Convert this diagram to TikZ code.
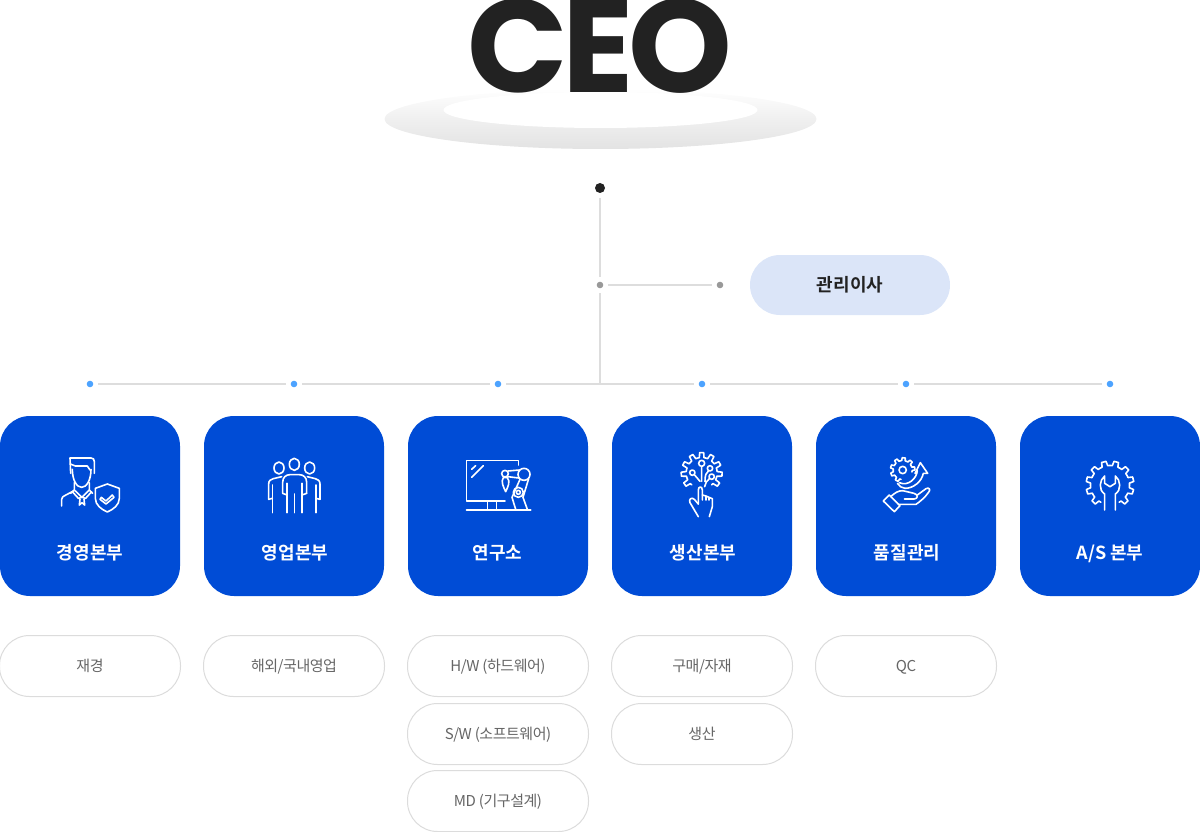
\documentclass[tikz,border=0pt]{standalone}
\usepackage{fontspec}
\newfontfamily\kr{Noto Sans CJK KR}[LetterSpace=-3]
\newfontfamily\krhead{Noto Sans CJK KR}[BoldFont={Noto Sans CJK KR Bold}]
\newfontfamily\ceofont{Poppins}[BoldFont={Poppins Bold},LetterSpace=-4]
\definecolor{cardblue}{HTML}{004CD6}
\definecolor{linegray}{HTML}{DDDDDD}
\definecolor{dotgray}{HTML}{999999}
\definecolor{dotblue}{HTML}{4DA3FF}
\definecolor{inkdark}{HTML}{222222}
\definecolor{pilltext}{HTML}{666666}
\definecolor{pillborder}{HTML}{DCDCDC}
\definecolor{mgrblue}{HTML}{DBE5F8}
\tikzset{
  card/.style={fill=cardblue,draw=none,rounded corners=30pt,minimum width=180pt,minimum height=180pt,inner sep=0pt},
  cardlabel/.style={text=white,inner sep=0pt,text height=18pt,text depth=4pt,font={\krhead\fontsize{18}{18}\selectfont\bfseries}},
  pill/.style={draw=pillborder,line width=1pt,fill=white,rounded corners=30pt,minimum width=181pt,minimum height=61pt,inner sep=0pt,text height=14.5pt,text depth=3pt,text=pilltext,font={\kr\fontsize{15}{15}\selectfont}},
  dotb/.style={circle,fill=dotblue,minimum size=6.6pt,inner sep=0pt,outer sep=4.7pt},
  dotg/.style={circle,fill=dotgray,minimum size=6.6pt,inner sep=0pt,outer sep=4.7pt},
  dotk/.style={circle,fill=inkdark,minimum size=10pt,inner sep=0pt,outer sep=5pt},
  wire/.style={draw=linegray,line width=2pt},
  icon/.style={draw=white,line width=1.6pt,line join=round,line cap=round},
  zoomA/.style={shift={(40,440)},x=0.33333pt,y=-0.33333pt},
  zoomB/.style={shift={(450,440)},x=0.33333pt,y=-0.33333pt},
  zoomC/.style={shift={(860,440)},x=0.33333pt,y=-0.33333pt},
}
% gear outline: centre x, centre y, root radius, tip radius, teeth, start angle, end angle
\newcommand{\gearline}[7]{%
  \begin{scope}[shift={(#1,#2)}]
    \pgfmathsetmacro{\gstep}{(#7-#6)/#5}
    \pgfmathtruncatemacro{\glast}{#5-1}
    \draw[icon] (#6:#3)
    \foreach \gi in {0,...,\glast}{
      -- ({#6+(\gi+0.22)*\gstep}:#3) -- ({#6+(\gi+0.32)*\gstep}:#4)
      -- ({#6+(\gi+0.68)*\gstep}:#4) -- ({#6+(\gi+0.78)*\gstep}:#3)
      -- ({#6+(\gi+1)*\gstep}:#3)
    };
  \end{scope}}
\begin{document}
\begin{tikzpicture}[x=1pt,y=-1pt]
\useasboundingbox (0,0) rectangle (1200,832);
% podium
\shade[top color=white,bottom color=black!11,middle color=black!6] (600.5,119) ellipse (216 and 30);
\fill[white] (600.5,110) ellipse (157 and 18);
\node[anchor=base,inner sep=0pt,text=inkdark,font={\ceofont\fontsize{132}{132}\selectfont\bfseries}] (ceo) at (600,93) {CEO};
% tree
\node[dotk] (top) at (600,188) {};
\node[dotg] (mid) at (600,285) {};
\node[dotg] (side) at (720,285) {};
\coordinate (junction) at (600,384);
\node[dotb] (b1) at (90,384) {};
\node[dotb] (b2) at (294,384) {};
\node[dotb] (b3) at (498,384) {};
\node[dotb] (b4) at (702,384) {};
\node[dotb] (b5) at (906,384) {};
\node[dotb] (b6) at (1110,384) {};
\draw[wire] (top) -- (mid);
\draw[wire] (mid) -- (junction);
\draw[wire] (mid) -- (side);
\draw[wire] (b1) -- (b2);
\draw[wire] (b2) -- (b3);
\draw[wire] (b3) -- (b4);
\draw[wire] (b4) -- (b5);
\draw[wire] (b5) -- (b6);
\node[fill=mgrblue,rounded corners=30pt,minimum width=200pt,minimum height=60pt,inner sep=0pt,text height=16pt,text depth=4pt,text=inkdark,font={\krhead\fontsize{18}{18}\selectfont\bfseries}] (mgr) at (850,285) {관리이사};
% cards
\node[card] (c1) at (90,506) {};
\node[card] (c2) at (294,506) {};
\node[card] (c3) at (498,506) {};
\node[card] (c4) at (702,506) {};
\node[card] (c5) at (906,506) {};
\node[card] (c6) at (1110,506) {};
\node[cardlabel] (l1) at (90,552) {경영본부};
\node[cardlabel] (l2) at (295,552) {영업본부};
\node[cardlabel] (l3) at (497.5,552) {연구소};
\node[cardlabel] (l4) at (703,552) {생산본부};
\node[cardlabel] (l5) at (907,552) {품질관리};
\node[cardlabel] (l6) at (1110,552) {A/S 본부};
% pills
\node[pill] (p1) at (90,666) {재경};
\node[pill] (p2) at (294,666) {해외/국내영업};
\node[pill] (p3a) at (498,666) {H/W (하드웨어)};
\node[pill] (p3b) at (498,734) {S/W (소프트웨어)};
\node[pill] (p3c) at (498,801) {MD (기구설계)};
\node[pill] (p4a) at (702,666) {구매/자재};
\node[pill] (p4b) at (702,734) {생산};
\node[pill] (p5) at (906,666) {QC};
% icon 1: person and shield
\begin{scope}[zoomA]
  \draw[icon] (92,100) -- (90,54) -- (153,54) .. controls (160,54) and (163,58) .. (163,65) -- (163,100);
  \draw[icon] (91,72) -- (106,78) -- (142,78) -- (150,90);
  \draw[icon] (97,88) .. controls (97,120) and (110,142) .. (125,142) .. controls (140,142) and (153,120) .. (153,88);
  \draw[icon] (103,128) -- (103,150) -- (126,172) -- (148,150) -- (148,128);
  \draw[icon] (92,160) -- (103,150) (158,160) -- (148,150);
  \draw[icon] (97,155) -- (115,175) -- (126,172) -- (137,175) -- (155,155);
  \draw[icon] (118,195) -- (120,178) (134,195) -- (132,178) (118,195) -- (126,188) -- (134,195);
  \draw[icon] (65,198) -- (65,178) .. controls (65,172) and (70,168) .. (76,166) -- (100,153);
  \draw[icon] (202,132) -- (238,145) -- (238,175) .. controls (238,195) and (220,208) .. (202,216) .. controls (184,208) and (166,195) .. (166,175) -- (166,145) -- cycle;
  \draw[icon] (184,172) -- (198,183) -- (217,165) -- (222,172) -- (198,192) -- (180,178) -- cycle;
  % icon 2: group
  \draw[icon] (763,73) ellipse (15 and 18);
  \draw[icon] (717,84) ellipse (15 and 18);
  \draw[icon] (809,84) ellipse (15 and 18);
  \draw[icon] (728,160) -- (728,127) .. controls (728,112) and (738,104) .. (750,104) -- (778,104) .. controls (790,104) and (800,112) .. (800,127) -- (800,160);
  \draw[icon] (741,218) -- (741,130) (786,218) -- (786,130) (763,218) -- (763,162);
  \draw[icon] (728,160) -- (741,165) (800,160) -- (786,165);
  \draw[icon] (697,218) -- (697,135) (828,218) -- (828,135);
  \draw[icon] (686,178) -- (686,132) .. controls (686,122) and (692,118) .. (700,116) -- (725,110);
  \draw[icon] (686,178) -- (697,175) (840,178) -- (828,175);
  \draw[icon] (840,178) -- (840,132) .. controls (840,122) and (834,118) .. (826,116) -- (802,110);
\end{scope}
% icon 3: monitor and robot arm; icon 4: gear tree and hand
\begin{scope}[zoomB]
  \draw[icon] (205,75) -- (205,62) -- (50,62) -- (50,183) -- (165,183);
  \draw[icon] (65,88) -- (77,77) (65,112) -- (100,77);
  \draw[icon] (113,183) -- (113,208) (140,183) -- (140,208);
  \draw[icon,line width=1.9pt] (50,210) -- (242,210);
  \draw[icon] (222,103) circle (18);
  \draw[icon] (165,101) circle (10);
  \draw[icon] (174,93) -- (208,90) (174,110) -- (206,114);
  \draw[icon] (160,113) .. controls (152,125) and (160,140) .. (167,155) .. controls (174,140) and (182,125) .. (172,113) -- cycle;
  \draw[icon] (210,118) -- (186,172) -- (197,208) (236,116) -- (219,172) -- (232,208);
  \draw[icon] (205,157) circle (15) (205,157) circle (6);
  % tree
  \draw[icon] (755,70) circle (9) (755,79) -- (755,124);
  \draw[icon] (727,98) circle (8) (733,104) -- (750,124);
  \draw[icon] (780,85) circle (8) (776,92) .. controls (768,98) and (765,105) .. (765,125);
  \draw[icon] (785,110) circle (8) (778,116) .. controls (770,122) and (766,130) .. (764,140);
  \draw[icon] (745,192) -- (745,150) .. controls (745,138) and (757,138) .. (757,150) -- (757,180);
  \draw[icon] (745,192) -- (733,178) .. controls (725,170) and (715,178) .. (720,188) -- (745,230);
  \draw[icon] (757,165) -- (768,168) -- (768,180) (768,168) -- (777,172) -- (777,180) (777,172) -- (787,176) -- (787,200) -- (778,230);
\end{scope}
\gearline{701.67}{473}{15.5}{20.5}{9}{130}{410}
% icon 5: gear and hand; icon 6: gear and wrench
\begin{scope}[zoomC]
  \draw[icon] (128,90) circle (11);
  \draw[icon] (118,128) .. controls (145,140) and (170,115) .. (172,92) -- (165,100) -- (181,68) -- (203,100) -- (190,100) .. controls (185,125) and (160,145) .. (135,145) .. controls (125,145) and (118,138) .. (112,130);
  \draw[icon] (70,183) -- (88,165) -- (120,197) -- (103,215) -- cycle;
  \draw[icon] (92,170) .. controls (105,158) and (115,152) .. (128,152) -- (162,160) .. controls (175,163) and (175,177) .. (162,177) -- (133,177);
  \draw[icon] (172,165) -- (198,146) .. controls (208,140) and (213,150) .. (205,158) .. controls (195,172) and (180,185) .. (168,193) -- (115,193);
  \draw[icon] (734,210) -- (734,162) .. controls (715,150) and (718,120) .. (734,108) -- (734,130) -- (750,140) -- (766,130) -- (766,108) .. controls (782,120) and (785,150) .. (766,162) -- (766,210);
\end{scope}
\gearline{902.67}{470}{9.5}{12.3}{7}{100}{372}
\gearline{1110}{485}{19.5}{24}{10}{118}{422}
\end{tikzpicture}
\end{document}
